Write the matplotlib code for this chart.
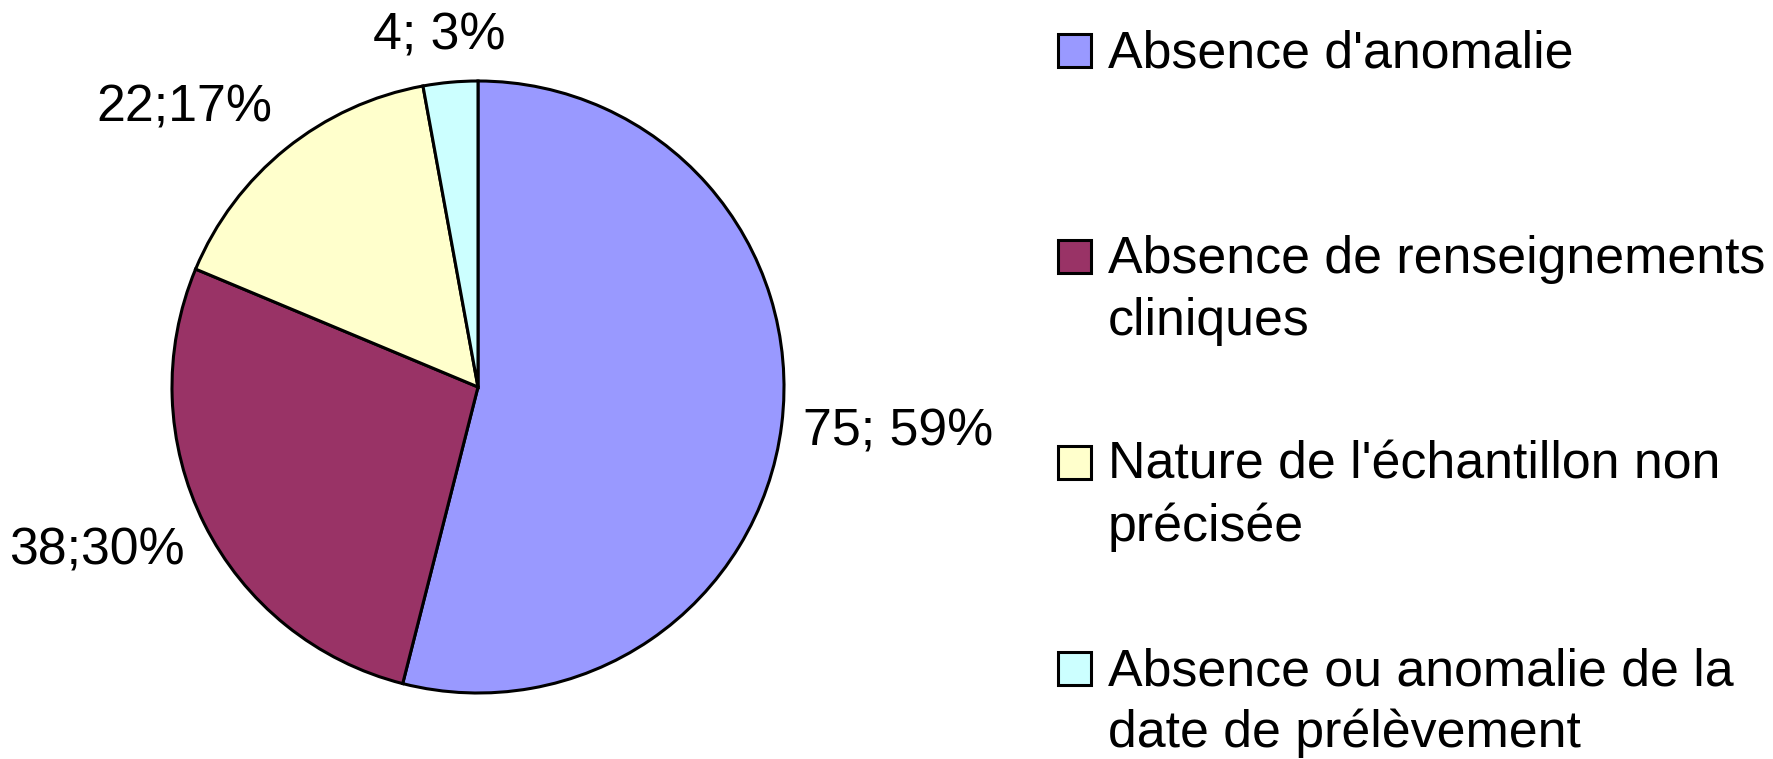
import numpy as np
import matplotlib
matplotlib.use("Agg")
import matplotlib.pyplot as plt
from matplotlib.patches import Rectangle

plt.rcParams['font.family'] = ['Liberation Sans', 'DejaVu Sans']

# ---- data ----
categories = ["Absence d'anomalie",
              "Absence de renseignements\ncliniques",
              "Nature de l'échantillon non\nprécisée",
              "Absence ou anomalie de la\ndate de prélèvement"]
values = [75, 38, 22, 4]
value_labels = ["75; 59%", "38;30%", "22;17%", "4; 3%"]
colors = ["#9999FF", "#993366", "#FFFFCC", "#CCFFFF"]

W, H = 1773, 759
DPI = 100
fig = plt.figure(figsize=(W / DPI, H / DPI), dpi=DPI)

# pie geometry (pixels)
cx, cy, R = 478, 387, 306
ax = fig.add_axes([0, 0, 1, 1])

wedges, _ = ax.pie(values, colors=colors, startangle=90, counterclock=False,
                   radius=1.0, center=(0, 0), frame=True,
                   wedgeprops=dict(edgecolor='black', linewidth=2.2))
ax.set_xlim(-cx / R, (W - cx) / R)
ax.set_ylim(-(H - cy) / R, cy / R)
ax.axis('off')

FS = 37.4
fig.canvas.draw()
renderer = fig.canvas.get_renderer()
for w, lab in zip(wedges, value_labels):
    ang = np.deg2rad((w.theta1 + w.theta2) / 2)
    c, s = np.cos(ang), np.sin(ang)
    px, py = 1.07 * c, 1.07 * s
    t = ax.text(px, py, lab, fontsize=FS, ha='center', va='center')
    bb = t.get_window_extent(renderer)
    tw, th = bb.width / R, bb.height / R
    t.set_position((px + tw / 2 * np.clip(1.6 * c, -1, 1),
                    py + th / 2 * np.clip(1.6 * s, -1, 1)))

# ---- legend (manual, pixel-based) ----
sq_x, sq_size = 1058, 33
txt_x = 1108
first_base = 67
entry_step = 206
line_step = 62
for i, (lab, col) in enumerate(zip(categories, colors)):
    base = first_base + i * entry_step
    sq_top = base - 33
    fig.patches.append(Rectangle((sq_x / W, 1 - (sq_top + sq_size) / H),
                                 sq_size / W, sq_size / H,
                                 transform=fig.transFigure, facecolor=col,
                                 edgecolor='black', linewidth=2.2))
    for j, line in enumerate(lab.split("\n")):
        fig.text(txt_x / W, 1 - (base + j * line_step) / H, line,
                 fontsize=FS, ha='left', va='baseline')

fig.savefig("out.png", dpi=DPI)
